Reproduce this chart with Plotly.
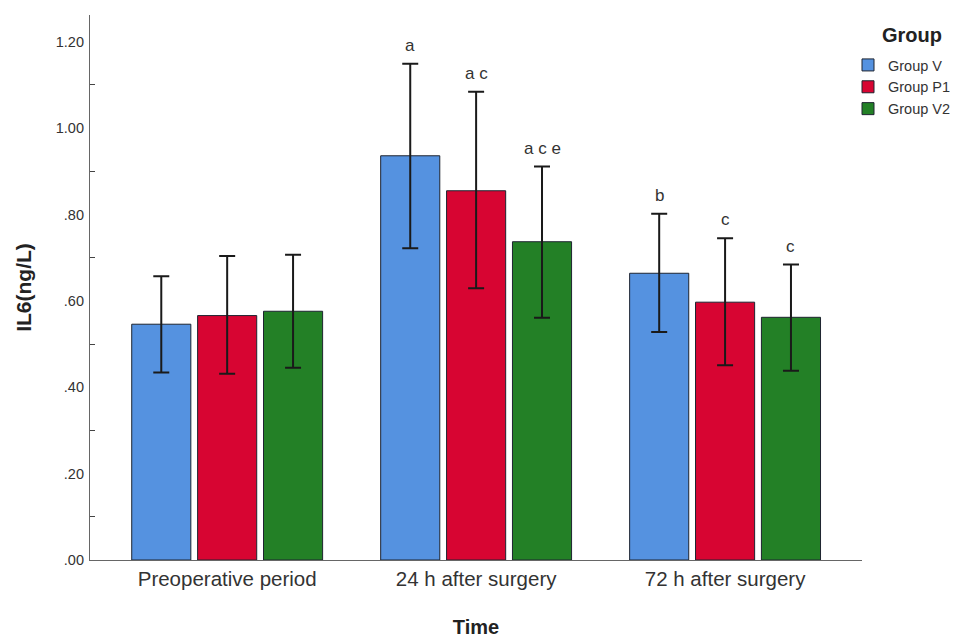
import plotly.graph_objects as go

categories = ["Preoperative period", "24 h after surgery", "72 h after surgery"]
groups = ["Group V", "Group P1", "Group V2"]
colors = ["#5592E0", "#D70532", "#238026"]

means = {
    "Group V": [0.546, 0.936, 0.664],
    "Group P1": [0.566, 0.855, 0.597],
    "Group V2": [0.576, 0.737, 0.562],
}
err_hi = {
    "Group V": [0.657, 1.149, 0.802],
    "Group P1": [0.704, 1.084, 0.745],
    "Group V2": [0.707, 0.911, 0.684],
}
err_lo = {
    "Group V": [0.434, 0.722, 0.528],
    "Group P1": [0.431, 0.629, 0.451],
    "Group V2": [0.445, 0.561, 0.438],
}
sig_labels = {
    "Group V": ["", "a", "b"],
    "Group P1": ["", "a c", "c"],
    "Group V2": ["", "a c e", "c"],
}

tick_vals = [0.0, 0.2, 0.4, 0.6, 0.8, 1.0, 1.2]
tick_text = [".00", ".20", ".40", ".60", ".80", "1.00", "1.20"]
minor_vals = [0.1, 0.3, 0.5, 0.7, 0.9, 1.1]

FONT = "Liberation Sans, Arial, sans-serif"

fig = go.Figure()
for g, c in zip(groups, colors):
    m = means[g]
    plus = [h - v for h, v in zip(err_hi[g], m)]
    minus = [v - l for l, v in zip(err_lo[g], m)]
    fig.add_trace(go.Bar(
        name=g, x=categories, y=m,
        marker=dict(color=c, line=dict(color="#1e2430", width=1)),
        error_y=dict(type="data", symmetric=False, array=plus, arrayminus=minus,
                     color="#1a1a1a", thickness=2, width=8),
    ))

# significance letters above each bar's error bar
n = len(groups)
bargap = 0.206
slot = (1 - bargap) / n
for i, g in enumerate(groups):
    off = (i - (n - 1) / 2) * slot
    for j, cat in enumerate(categories):
        lab = sig_labels[g][j]
        if not lab:
            continue
        fig.add_annotation(
            x=j + off, y=err_hi[g][j], xref="x", yref="y",
            text=lab, showarrow=False, yanchor="bottom", yshift=7,
            font=dict(family=FONT, size=17, color="#333333"),
        )

# legend title (drawn as annotation to control its spacing)
fig.add_annotation(
    x=(912 - 90) / 772, y=(560 - 35) / 545, xref="paper", yref="paper",
    text="<b>Group</b>", showarrow=False, xanchor="center", yanchor="middle",
    font=dict(family=FONT, size=20, color="#222"),
)

fig.update_layout(
    width=962, height=638,
    margin=dict(l=90, r=100, t=15, b=78, autoexpand=False),
    paper_bgcolor="white", plot_bgcolor="white",
    barmode="group", bargap=bargap, bargroupgap=0.103,
    font=dict(family=FONT, color="#222222"),
    showlegend=True,
    legend=dict(
        xref="container", yref="container",
        x=848 / 962, y=1 - 49 / 638, xanchor="left", yanchor="top",
        font=dict(family=FONT, size=14.5, color="#333"),
        bgcolor="rgba(0,0,0,0)",
    ),
    xaxis=dict(
        type="category", range=[-0.551, 2.55],
        showline=True, linecolor="#666666", linewidth=1.2,
        ticks="", tickfont=dict(family=FONT, size=20.5, color="#333"),
        title=dict(text="<b>Time</b>", font=dict(family=FONT, size=20, color="#222"), standoff=31),
        showgrid=False, zeroline=False,
    ),
    yaxis=dict(
        range=[0, 1.262],
        showline=True, linecolor="#666666", linewidth=1.2,
        tickmode="array", tickvals=tick_vals, ticktext=tick_text, ticks="",
        ticklabelstandoff=2,
        tickfont=dict(family=FONT, size=14.5, color="#333"),
        minor=dict(tickmode="array", tickvals=minor_vals, ticks="inside", ticklen=5,
                   tickcolor="#444", tickwidth=1, showgrid=False),
        title=dict(text="<b>IL6(ng/L)</b>", font=dict(family=FONT, size=21, color="#222"), standoff=18),
        showgrid=False, zeroline=False,
    ),
)

fig.write_html("out.html")
